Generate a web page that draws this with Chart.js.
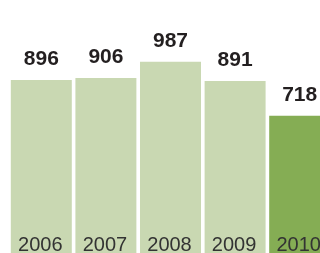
<!DOCTYPE html>
<html>
<head>
<meta charset="utf-8">
<script src="https://cdn.jsdelivr.net/npm/chart.js@4"></script>
<style>
  html, body { margin: 0; padding: 0; background: #fff; overflow: hidden; width: 320px; height: 253px; }
  #wrap { position: absolute; left: 0; top: 0; width: 332px; height: 260px; }
</style>
</head>
<body>
<div id="wrap"><canvas id="chart"></canvas></div>
<script>
const years = ['2006', '2007', '2008', '2009', '2010'];
const values = [896, 906, 987, 891, 718];
const barColors = ['#c9d8b2', '#c9d8b2', '#c9d8b2', '#c9d8b2', '#85ad54'];

// value labels above the bars, year labels at the foot of each bar
const barLabels = {
    id: 'barLabels',
    afterDatasetsDraw(chart) {
        const ctx = chart.ctx;
        const meta = chart.getDatasetMeta(0);
        ctx.save();
        ctx.textAlign = 'center';
        ctx.textBaseline = 'alphabetic';
        meta.data.forEach((bar, i) => {
            ctx.font = 'bold 21px "Liberation Sans", Arial, sans-serif';
            ctx.fillStyle = '#231f20';
            ctx.fillText(String(values[i]), bar.x, bar.y - 15);

            ctx.font = '20px "Liberation Sans", Arial, sans-serif';
            ctx.fillStyle = '#333333';
            ctx.fillText(years[i], bar.x - 1, 251);
        });
        ctx.restore();
    }
};

new Chart(document.getElementById('chart').getContext('2d'), {
    type: 'bar',
    data: {
        labels: years,
        datasets: [{
            data: values,
            backgroundColor: barColors,
            borderWidth: 0,
            categoryPercentage: 1,
            barPercentage: 0.944
        }]
    },
    options: {
        responsive: true,
        maintainAspectRatio: false,
        animation: false,
        layout: { padding: { left: 9, right: 0, top: 0, bottom: 0 } },
        plugins: {
            legend: { display: false },
            tooltip: { enabled: false }
        },
        scales: {
            x: { display: false },
            y: { display: false, min: 0, max: 1295 }
        }
    },
    plugins: [barLabels]
});
</script>
</body>
</html>
